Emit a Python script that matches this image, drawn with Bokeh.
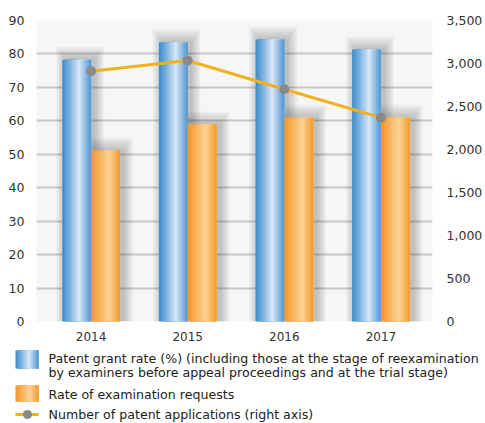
import numpy as np
from bokeh.plotting import figure
from bokeh.models import Range1d, LinearAxis, FixedTicker, NumeralTickFormatter
from bokeh.core.properties import value
from bokeh.embed import file_html
from bokeh.resources import INLINE

years = ["2014", "2015", "2016", "2017"]
grant_rate = [78.3, 83.4, 84.3, 81.3]
exam_rate = [51.1, 58.9, 60.9, 60.9]
applications = [2910, 3035, 2700, 2370]

legend_labels = [
    "Patent grant rate (%) (including those at the stage of reexamination",
    "by examiners before appeal proceedings and at the trial stage)",
    "Rate of examination requests",
    "Number of patent applications (right axis)",
]

FONT = "DejaVu Sans"
xs = np.arange(len(years), dtype=float)
BW = 0.298


def interp_color(stops, t):
    pos = [s[0] for s in stops]
    cols = np.array([[int(s[1][i:i + 2], 16) for i in (1, 3, 5)] for s in stops], dtype=float)
    rgb = [np.interp(t, pos, cols[:, k]) for k in range(3)]
    return "#%02x%02x%02x" % tuple(int(round(c)) for c in rgb)


blue_stops = [(0.0, "#3b8bcc"), (0.25, "#79b0df"), (0.58, "#dae8f6"), (0.85, "#7fb2de"), (1.0, "#4f98d4")]
orange_stops = [(0.0, "#f39526"), (0.3, "#f7b35e"), (0.62, "#fbd498"), (0.88, "#f6ad4c"), (1.0, "#f39a30")]

p = figure(width=485, height=348, output_backend="svg", toolbar_location=None,
           x_range=Range1d(-0.565, 3.534), y_range=Range1d(0, 90),
           min_border_left=36, min_border_right=50, min_border_top=20, min_border_bottom=27)
p.extra_y_ranges = {"right": Range1d(0, 3500)}
p.background_fill_color = "#f5f7f6"
p.border_fill_color = "white"
p.outline_line_color = None

# soft shadows
for series, off in ((grant_rate, -BW / 2), (exam_rate, BW / 2)):
    for j in range(1, 11):
        p.vbar(x=xs + off + 0.035, top=np.array(series) + j * 0.4, bottom=0,
               width=BW + j * 0.02, fill_color="#404040", fill_alpha=0.03, line_color=None)

# gradient bars: layered stripes, each reaching the bar's right edge (no seams)
N = 18
for series, stops, base in ((grant_rate, blue_stops, -BW), (exam_rate, orange_stops, 0.0)):
    for k in range(N):
        t = (k + 0.5) / N
        c = interp_color(stops, t)
        start = k / N
        w = (1.0 - start) * BW
        p.vbar(x=xs + base + start * BW + w / 2, top=series, bottom=0, width=w,
               fill_color=c, line_color=None)

p.line(xs, applications, y_range_name="right", line_color="#f0b020", line_width=3)
p.scatter(xs, applications, y_range_name="right", size=10, fill_color="#8a8a8a", line_color=None)

# axes
p.xaxis.ticker = FixedTicker(ticks=list(xs))
p.xaxis.major_label_overrides = {float(i): y for i, y in enumerate(years)}
p.xaxis.major_label_overrides.update({int(i): y for i, y in enumerate(years)})
p.xaxis.axis_line_color = None
p.xaxis.major_tick_line_color = None
p.xaxis.minor_tick_line_color = None
p.xaxis.major_label_standoff = 4
p.xaxis.major_label_text_font = FONT
p.xaxis.major_label_text_font_size = "12px"
p.xaxis.major_label_text_color = "#333333"

p.yaxis.ticker = FixedTicker(ticks=list(range(0, 91, 10)))
p.yaxis.axis_line_color = None
p.yaxis.major_tick_line_color = None
p.yaxis.minor_tick_line_color = None
p.yaxis.major_label_standoff = 6
p.yaxis.major_label_text_font = FONT
p.yaxis.major_label_text_font_size = "12.5px"
p.yaxis.major_label_text_color = "#333333"

ry = LinearAxis(y_range_name="right", ticker=FixedTicker(ticks=list(range(0, 3501, 500))),
                formatter=NumeralTickFormatter(format="0,0"))
ry.axis_line_color = None
ry.major_tick_line_color = None
ry.minor_tick_line_color = None
ry.major_label_standoff = 8
ry.major_label_text_font = FONT
ry.major_label_text_font_size = "12.5px"
ry.major_label_text_color = "#333333"
p.add_layout(ry, "right")

p.xgrid.grid_line_color = None
p.ygrid.grid_line_color = "#c6c6c6"
p.ygrid.grid_line_width = 2

# legend figure (pixel coordinates, y downwards), a separate root so frames are not aligned
lg = figure(width=485, height=75, output_backend="svg", toolbar_location=None,
            x_range=Range1d(0, 485), y_range=Range1d(75, 0),
            x_axis_location=None, y_axis_location=None,
            min_border=0, min_border_left=0, min_border_right=0, min_border_top=0, min_border_bottom=0)
lg.grid.visible = False
lg.outline_line_color = None
lg.background_fill_color = "white"
lg.border_fill_color = "white"

SW_L, SW_R = 15.0, 38.0
for stops, (y0, y1) in ((blue_stops, (2, 20)), (orange_stops, (37, 53))):
    for k in range(N):
        t = (k + 0.5) / N
        c = interp_color(stops, t)
        lg.quad(left=SW_L + k * (SW_R - SW_L) / N, right=SW_R,
                top=y0, bottom=y1, fill_color=c, line_color=None)

lg.line([SW_L, SW_R], [66, 66], line_color="#f0b020", line_width=3)
lg.scatter([27], [66], size=9, fill_color="#8a8a8a", line_color=None)

lg.text(x=[48, 48, 48, 48], y=[10, 24, 46, 66], text=legend_labels,
        text_font=value(FONT), text_font_size="12.6px", text_color="#222222",
        text_baseline="middle", text_align="left")

open("out.html", "w").write(file_html([p, lg], INLINE))
